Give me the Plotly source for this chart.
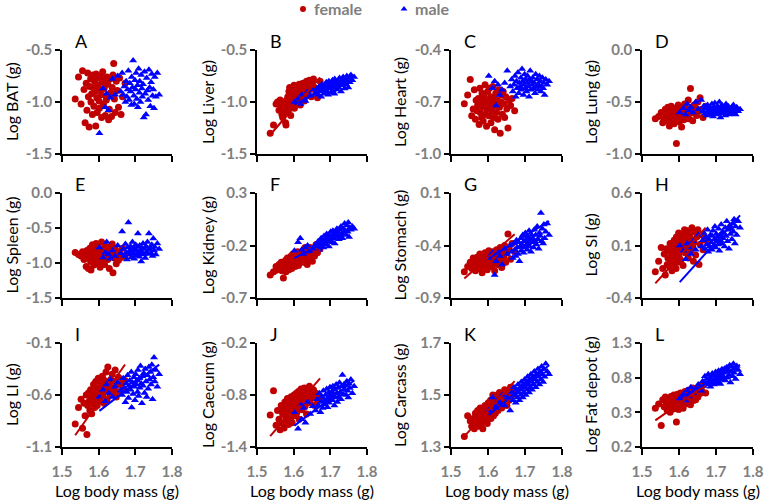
import plotly.graph_objects as go

# ---------------- data ----------------
panel_letters = ["A", "B", "C", "D", "E", "F", "G", "H", "I", "J", "K", "L"]
y_titles = ["Log BAT (g)", "Log Liver (g)", "Log Heart (g)", "Log Lung (g)",
            "Log Spleen (g)", "Log Kidney (g)", "Log Stomach (g)", "Log SI (g)",
            "Log LI (g)", "Log Caecum (g)", "Log Carcass (g)", "Log Fat depot (g)"]
x_title = "Log body mass (g)"
legend_names = ["female", "male"]
x_tickvals = [1.5, 1.6, 1.7, 1.8]
x_ticktext = ["1.5", "1.6", "1.7", "1.8"]
y_tickvals = [[-1.5, -1.0, -0.5], [-1.5, -1.0, -0.5], [-1.0, -0.7, -0.4], [-1.0, -0.5, 0.0],
              [-1.5, -1.0, -0.5, 0.0], [-0.7, -0.2, 0.3], [-0.9, -0.4, 0.1], [-0.4, 0.1, 0.6],
              [-1.1, -0.6, -0.1], [-1.4, -0.8, -0.2], [1.3, 1.5, 1.7], [-0.2, 0.3, 0.8, 1.3]]
y_ticktext = [["-1.5", "-1.0", "-0.5"], ["-1.5", "-1.0", "-0.5"], ["-1.0", "-0.7", "-0.4"],
              ["-1.0", "-0.5", "0.0"], ["-1.5", "-1.0", "-0.5", "0.0"], ["-0.7", "-0.2", "0.3"],
              ["-0.9", "-0.4", "0.1"], ["-0.4", "0.1", "0.6"], ["-1.1", "-0.6", "-0.1"],
              ["-1.4", "-0.8", "-0.2"], ["1.3", "1.5", "1.7"], ["0.2", "0.3", "0.8", "1.3"]]

female_x = [1.536, 1.545, 1.552, 1.556, 1.560, 1.563, 1.566, 1.568, 1.570, 1.572,
            1.574, 1.576, 1.578, 1.579, 1.581, 1.583, 1.584, 1.586, 1.587, 1.589,
            1.590, 1.592, 1.593, 1.595, 1.596, 1.598, 1.599, 1.601, 1.602, 1.604,
            1.605, 1.607, 1.608, 1.610, 1.611, 1.613, 1.615, 1.616, 1.618, 1.620,
            1.621, 1.623, 1.625, 1.627, 1.629, 1.631, 1.633, 1.635, 1.637, 1.639,
            1.641, 1.643, 1.645, 1.648, 1.651, 1.654, 1.657, 1.661, 1.665, 1.672]
male_x = [1.602, 1.612, 1.618, 1.622, 1.627, 1.632, 1.638, 1.645, 1.652, 1.660,
          1.664, 1.667, 1.670, 1.673, 1.675, 1.677, 1.679, 1.681, 1.683, 1.685,
          1.687, 1.689, 1.690, 1.692, 1.694, 1.696, 1.697, 1.699, 1.701, 1.702,
          1.704, 1.706, 1.707, 1.709, 1.711, 1.712, 1.714, 1.716, 1.718, 1.719,
          1.721, 1.723, 1.725, 1.727, 1.729, 1.731, 1.733, 1.735, 1.737, 1.739,
          1.741, 1.743, 1.745, 1.747, 1.749, 1.751, 1.753, 1.756, 1.760, 1.765]

female_bat = [-0.97, -0.76, -1.02, -0.70, -0.88, -1.20, -0.82, -1.08, -0.72, -0.95,
              -1.24, -0.85, -0.78, -1.00, -0.92, -1.12, -0.74, -0.86, -1.04, -0.80,
              -0.90, -1.23, -0.73, -0.96, -1.10, -0.84, -0.77, -0.99, -1.06, -0.88,
              -0.75, -0.93, -1.15, -0.81, -0.71, -1.02, -0.87, -0.79, -1.13, -0.94,
              -0.98, -0.76, -0.83, -1.17, -1.07, -0.78, -0.91, -1.14, -0.86, -0.74,
              -0.63, -0.97, -1.10, -0.80, -0.89, -1.05, -0.77, -1.12, -0.95, -0.82]
male_bat = [-1.30, -0.87, -1.05, -0.92, -1.08, -0.96, -0.78, -0.93, -0.75, -0.90,
            -0.72, -0.93, -0.85, -1.00, -0.80, -0.95, -0.88, -0.70, -0.98, -0.82,
            -0.90, -1.03, -0.76, -0.86, -0.60, -0.94, -1.02, -0.79, -0.88, -0.72,
            -0.97, -0.84, -1.05, -0.68, -0.91, -0.80, -1.00, -0.74, -0.87, -0.95,
            -0.83, -1.15, -0.71, -0.92, -1.12, -0.77, -0.89, -0.98, -0.69, -0.86,
            -1.04, -0.81, -0.73, -0.94, -0.88, -1.06, -0.76, -0.95, -0.72, -0.93]

female_liver = [-1.30, -1.22, -1.02, -1.00, -1.08, -0.98, -1.05, -1.12, -1.15, -1.00,
                -1.03, -1.10, -1.20, -1.22, -0.98, -1.08, -0.95, -1.05, -0.90, -0.86,
                -1.00, -1.13, -0.92, -0.88, -1.02, -0.86, -0.95, -0.84, -1.06, -0.90,
                -0.93, -0.87, -1.00, -0.85, -0.92, -0.96, -0.83, -0.90, -1.03, -0.88,
                -0.86, -0.94, -0.82, -0.89, -0.99, -0.85, -0.91, -0.80, -0.87, -0.93,
                -0.84, -0.79, -0.88, -0.95, -0.82, -0.78, -0.86, -0.90, -0.96, -0.80]
male_liver = [-1.00, -0.97, -1.02, -0.93, -0.96, -0.99, -0.90, -0.94, -0.88, -0.91,
              -0.87, -0.93, -0.85, -0.89, -0.95, -0.83, -0.90, -0.86, -0.92, -0.84,
              -0.88, -0.81, -0.90, -0.85, -0.93, -0.80, -0.87, -0.84, -0.91, -0.82,
              -0.86, -0.79, -0.89, -0.83, -0.92, -0.78, -0.85, -0.81, -0.88, -0.84,
              -0.80, -0.86, -0.77, -0.83, -0.90, -0.79, -0.84, -0.76, -0.82, -0.87,
              -0.78, -0.83, -0.75, -0.80, -0.86, -0.77, -0.81, -0.74, -0.79, -0.76]

female_heart = [-0.71, -0.66, -0.57, -0.78, -0.74, -0.63, -0.80, -0.69, -0.75, -0.72,
                -0.68, -0.83, -0.62, -0.76, -0.70, -0.79, -0.65, -0.73, -0.81, -0.67,
                -0.71, -0.60, -0.77, -0.69, -0.84, -0.74, -0.64, -0.70, -0.78, -0.62,
                -0.73, -0.67, -0.82, -0.70, -0.75, -0.61, -0.79, -0.68, -0.86, -0.72,
                -0.65, -0.76, -0.69, -0.80, -0.63, -0.73, -0.88, -0.70, -0.66, -0.77,
                -0.64, -0.71, -0.79, -0.67, -0.74, -0.85, -0.69, -0.72, -0.68, -0.75]
male_heart = [-0.55, -0.62, -0.58, -0.72, -0.60, -0.66, -0.63, -0.59, -0.52, -0.61,
              -0.57, -0.64, -0.60, -0.55, -0.67, -0.58, -0.62, -0.53, -0.65, -0.59,
              -0.61, -0.56, -0.63, -0.51, -0.58, -0.66, -0.60, -0.54, -0.62, -0.57,
              -0.64, -0.59, -0.55, -0.61, -0.67, -0.57, -0.52, -0.63, -0.58, -0.60,
              -0.56, -0.62, -0.59, -0.65, -0.54, -0.61, -0.57, -0.63, -0.60, -0.55,
              -0.58, -0.64, -0.61, -0.56, -0.62, -0.59, -0.66, -0.57, -0.60, -0.58]

female_lung = [-0.66, -0.64, -0.60, -0.70, -0.66, -0.57, -0.63, -0.68, -0.55, -0.62,
               -0.73, -0.59, -0.65, -0.54, -0.61, -0.68, -0.58, -0.64, -0.71, -0.60,
               -0.56, -0.63, -0.90, -0.59, -0.66, -0.53, -0.62, -0.69, -0.57, -0.65,
               -0.60, -0.74, -0.55, -0.63, -0.58, -0.67, -0.52, -0.61, -0.56, -0.64,
               -0.57, -0.62, -0.48, -0.66, -0.59, -0.37, -0.60, -0.55, -0.68, -0.58,
               -0.53, -0.61, -0.56, -0.63, -0.50, -0.59, -0.46, -0.57, -0.65, -0.54]
male_lung = [-0.60, -0.56, -0.62, -0.52, -0.58, -0.55, -0.60, -0.50, -0.57, -0.48,
             -0.59, -0.54, -0.61, -0.56, -0.63, -0.53, -0.58, -0.60, -0.55, -0.62,
             -0.57, -0.52, -0.60, -0.64, -0.55, -0.58, -0.51, -0.61, -0.56, -0.59,
             -0.54, -0.62, -0.57, -0.50, -0.60, -0.65, -0.56, -0.53, -0.59, -0.61,
             -0.58, -0.55, -0.63, -0.52, -0.57, -0.60, -0.54, -0.62, -0.56, -0.59,
             -0.61, -0.55, -0.58, -0.53, -0.60, -0.57, -0.62, -0.55, -0.59, -0.57]

female_spleen = [-0.85, -0.88, -0.90, -0.84, -0.95, -0.87, -1.05, -0.82, -0.92, -1.08,
                 -0.86, -0.79, -0.98, -1.10, -0.88, -0.74, -0.93, -0.84, -1.03, -0.90,
                 -0.81, -0.96, -0.72, -0.89, -1.00, -0.85, -0.77, -0.94, -0.87, -1.06,
                 -0.83, -0.91, -0.70, -0.88, -0.97, -0.80, -0.86, -1.02, -0.76, -0.92,
                 -0.89, -0.84, -0.95, -0.78, -1.08, -0.87, -0.82, -0.90, -0.73, -1.14,
                 -0.86, -0.93, -0.80, -1.01, -0.88, -0.96, -0.84, -0.92, -0.79, -0.90]
male_spleen = [-0.78, -0.92, -0.85, -0.70, -0.88, -0.94, -0.82, -0.90, -0.75, -0.86,
               -0.55, -0.80, -0.90, -0.73, -0.85, -0.95, -0.78, -0.42, -0.88, -0.82,
               -0.76, -0.92, -0.84, -0.70, -0.87, -0.79, -0.94, -0.81, -0.74, -0.89,
               -0.83, -0.77, -0.58, -0.86, -0.91, -0.75, -0.82, -0.98, -0.79, -0.85,
               -0.72, -0.88, -0.80, -0.93, -0.76, -0.84, -0.70, -0.87, -0.58, -0.81,
               -0.78, -0.86, -0.74, -0.90, -0.65, -0.82, -0.77, -0.88, -0.72, -0.80]

female_kidney = [-0.48, -0.45, -0.40, -0.43, -0.38, -0.42, -0.36, -0.44, -0.39, -0.51,
                 -0.37, -0.41, -0.34, -0.45, -0.38, -0.32, -0.40, -0.35, -0.43, -0.37,
                 -0.33, -0.39, -0.30, -0.42, -0.36, -0.28, -0.38, -0.34, -0.31, -0.40,
                 -0.35, -0.29, -0.37, -0.32, -0.26, -0.39, -0.33, -0.30, -0.36, -0.27,
                 -0.31, -0.34, -0.25, -0.36, -0.29, -0.22, -0.33, -0.27, -0.38, -0.30,
                 -0.26, -0.32, -0.22, -0.28, -0.35, -0.24, -0.30, -0.19, -0.27, -0.23]
male_kidney = [-0.25, -0.17, -0.13, -0.24, -0.28, -0.22, -0.20, -0.26, -0.23, -0.19,
               -0.21, -0.16, -0.24, -0.18, -0.13, -0.20, -0.15, -0.22, -0.11, -0.17,
               -0.14, -0.19, -0.09, -0.16, -0.12, -0.21, -0.10, -0.15, -0.07, -0.13,
               -0.11, -0.17, -0.06, -0.13, -0.09, -0.18, -0.08, -0.12, -0.04, -0.10,
               -0.07, -0.14, -0.05, -0.11, -0.02, -0.09, -0.13, -0.04, -0.08, 0.01,
               -0.06, -0.10, -0.01, -0.07, 0.02, -0.12, -0.03, -0.05, -0.02, -0.04]

female_stomach = [-0.65, -0.60, -0.56, -0.62, -0.52, -0.58, -0.64, -0.55, -0.60, -0.51,
                  -0.57, -0.62, -0.48, -0.55, -0.59, -0.53, -0.66, -0.50, -0.56, -0.61,
                  -0.52, -0.47, -0.58, -0.54, -0.49, -0.63, -0.51, -0.56, -0.45, -0.53,
                  -0.57, -0.48, -0.54, -0.60, -0.50, -0.46, -0.55, -0.52, -0.64, -0.49,
                  -0.53, -0.44, -0.58, -0.50, -0.47, -0.55, -0.42, -0.52, -0.61, -0.48,
                  -0.45, -0.51, -0.40, -0.56, -0.47, -0.29, -0.43, -0.53, -0.38, -0.46]
male_stomach = [-0.52, -0.47, -0.68, -0.55, -0.45, -0.50, -0.58, -0.43, -0.48, -0.40,
                -0.46, -0.52, -0.38, -0.44, -0.50, -0.35, -0.42, -0.48, -0.37, -0.55,
                -0.41, -0.33, -0.45, -0.39, -0.30, -0.47, -0.36, -0.42, -0.28, -0.40,
                -0.35, -0.44, -0.32, -0.38, -0.26, -0.41, -0.34, -0.46, -0.30, -0.37,
                -0.33, -0.42, -0.25, -0.36, -0.30, -0.39, -0.22, -0.34, -0.43, -0.28,
                -0.31, -0.09, -0.36, -0.24, -0.38, -0.20, -0.33, -0.27, -0.19, -0.30]

female_si = [-0.15, -0.05, 0.08, -0.12, 0.02, -0.18, 0.07, -0.08, -0.02, 0.05,
             -0.10, 0.12, -0.05, 0.03, -0.14, 0.09, 0.00, -0.07, 0.15, -0.03,
             0.06, -0.12, 0.18, 0.02, -0.06, 0.11, 0.22, -0.02, 0.08, 0.14,
             -0.04, 0.20, 0.05, 0.12, -0.09, 0.17, 0.25, 0.03, 0.10, 0.19,
             0.07, 0.24, -0.02, 0.14, 0.21, 0.04, 0.16, 0.27, 0.09, -0.05,
             0.13, 0.23, 0.01, 0.18, 0.25, -0.08, 0.11, 0.20, 0.06, 0.15]
male_si = [0.10, 0.05, -0.03, 0.12, 0.08, 0.02, 0.14, 0.06, 0.20, 0.09,
           0.15, 0.22, 0.07, 0.18, 0.11, 0.25, 0.04, 0.16, 0.09, 0.20,
           0.13, 0.06, 0.19, 0.24, 0.10, 0.16, 0.28, 0.08, 0.21, 0.14,
           0.18, 0.11, 0.26, 0.05, 0.20, 0.15, 0.30, 0.12, 0.23, 0.17,
           0.22, 0.09, 0.27, 0.19, 0.33, 0.14, 0.25, 0.07, 0.29, 0.21,
           0.26, 0.16, 0.31, 0.23, 0.35, 0.12, 0.28, 0.20, 0.33, 0.27]

female_li = [-0.88, -0.72, -0.64, -0.92, -0.68, -0.80, -0.60, -0.98, -0.70, -0.58,
             -0.66, -0.75, -0.55, -0.62, -0.78, -0.57, -0.68, -0.50, -0.64, -0.72,
             -0.59, -0.47, -0.65, -0.54, -0.70, -0.61, -0.44, -0.58, -0.66, -0.52,
             -0.63, -0.49, -0.57, -0.42, -0.60, -0.53, -0.68, -0.46, -0.55, -0.38,
             -0.51, -0.64, -0.33, -0.56, -0.48, -0.60, -0.45, -0.53, -0.40, -0.58,
             -0.47, -0.55, -0.36, -0.62, -0.50, -0.43, -0.57, -0.49, -0.54, -0.46]
male_li = [-0.62, -0.55, -0.66, -0.50, -0.58, -0.45, -0.62, -0.52, -0.48, -0.56,
           -0.60, -0.44, -0.53, -0.67, -0.49, -0.57, -0.41, -0.63, -0.51, -0.46,
           -0.55, -0.38, -0.72, -0.48, -0.59, -0.43, -0.52, -0.65, -0.40, -0.50,
           -0.46, -0.57, -0.36, -0.61, -0.44, -0.53, -0.32, -0.49, -0.68, -0.42,
           -0.51, -0.39, -0.58, -0.35, -0.47, -0.62, -0.41, -0.54, -0.33, -0.45,
           -0.38, -0.50, -0.31, -0.64, -0.43, -0.24, -0.47, -0.36, -0.52, -0.40]

female_caecum = [-1.03, -0.75, -1.15, -0.98, -1.08, -1.20, -0.92, -1.12, -1.02, -0.95,
                 -1.18, -0.88, -1.05, -0.97, -1.10, -0.84, -1.00, -1.14, -0.91, -0.86,
                 -0.99, -1.07, -0.82, -0.94, -1.12, -0.89, -0.96, -0.80, -1.04, -0.87,
                 -0.92, -0.78, -1.01, -0.85, -0.95, -0.76, -1.08, -0.83, -0.90, -0.73,
                 -0.86, -0.97, -0.79, -0.88, -0.72, -0.93, -0.81, -1.02, -0.77, -0.85,
                 -0.80, -0.70, -0.89, -0.76, -0.83, -0.74, -0.92, -0.78, -0.86, -0.82]
male_caecum = [-1.00, -1.19, -0.90, -1.08, -0.95, -1.12, -0.88, -1.02, -0.93, -0.98,
               -0.85, -0.92, -0.78, -1.00, -0.88, -0.82, -0.95, -0.75, -0.86, -0.91,
               -0.80, -0.87, -0.73, -0.94, -0.83, -0.77, -0.89, -0.71, -0.84, -0.79,
               -0.76, -0.86, -0.70, -0.81, -0.92, -0.74, -0.83, -0.68, -0.78, -0.88,
               -0.72, -0.82, -0.66, -0.77, -0.85, -0.70, -0.57, -0.79, -0.68, -0.74,
               -0.69, -0.80, -0.64, -0.75, -0.83, -0.67, -0.72, -0.62, -0.78, -0.70]

female_carcass = [1.34, 1.42, 1.40, 1.38, 1.41, 1.37, 1.43, 1.39, 1.41, 1.44,
                  1.38, 1.42, 1.40, 1.45, 1.39, 1.43, 1.41, 1.37, 1.44, 1.42,
                  1.40, 1.46, 1.43, 1.41, 1.45, 1.39, 1.44, 1.47, 1.42, 1.45,
                  1.43, 1.48, 1.41, 1.46, 1.44, 1.50, 1.42, 1.47, 1.45, 1.43,
                  1.48, 1.45, 1.50, 1.44, 1.47, 1.51, 1.46, 1.49, 1.45, 1.48,
                  1.50, 1.47, 1.52, 1.49, 1.46, 1.51, 1.48, 1.53, 1.50, 1.52]
male_carcass = [1.44, 1.49, 1.46, 1.45, 1.48, 1.47, 1.50, 1.46, 1.49, 1.44,
                1.51, 1.48, 1.53, 1.50, 1.47, 1.52, 1.49, 1.54, 1.51, 1.48,
                1.53, 1.50, 1.55, 1.52, 1.49, 1.54, 1.51, 1.56, 1.53, 1.50,
                1.55, 1.52, 1.57, 1.54, 1.51, 1.56, 1.53, 1.58, 1.55, 1.52,
                1.57, 1.54, 1.59, 1.56, 1.53, 1.58, 1.55, 1.60, 1.57, 1.54,
                1.59, 1.56, 1.61, 1.58, 1.55, 1.60, 1.57, 1.62, 1.59, 1.58]

female_fat = [0.36, 0.42, 0.11, 0.48, 0.38, 0.52, 0.44, 0.33, 0.50, 0.40,
              0.46, 0.30, 0.53, 0.41, 0.37, 0.49, 0.43, 0.55, 0.35, 0.47,
              0.51, 0.39, 0.16, 0.45, 0.56, 0.42, 0.34, 0.50, 0.47, 0.58,
              0.44, 0.53, 0.40, 0.48, 0.36, 0.55, 0.46, 0.60, 0.42, 0.51,
              0.57, 0.45, 0.62, 0.49, 0.54, 0.41, 0.59, 0.50, 0.65, 0.47,
              0.55, 0.63, 0.48, 0.60, 0.52, 0.67, 0.57, 0.62, 0.70, 0.58]
male_fat = [0.50, 0.56, 0.47, 0.62, 0.53, 0.66, 0.58, 0.64, 0.70, 0.61,
            0.75, 0.68, 0.82, 0.72, 0.78, 0.70, 0.85, 0.74, 0.80, 0.67,
            0.79, 0.73, 0.86, 0.76, 0.70, 0.83, 0.77, 0.88, 0.72, 0.81,
            0.84, 0.75, 0.90, 0.79, 0.86, 0.71, 0.82, 0.92, 0.77, 0.87,
            0.81, 0.93, 0.76, 0.88, 0.95, 0.80, 0.90, 0.84, 0.98, 0.73,
            0.89, 0.96, 0.82, 1.00, 0.87, 0.93, 0.78, 0.97, 0.91, 0.85]

female_values = [female_bat, female_liver, female_heart, female_lung, female_spleen, female_kidney,
                 female_stomach, female_si, female_li, female_caecum, female_carcass, female_fat]
male_values = [male_bat, male_liver, male_heart, male_lung, male_spleen, male_kidney,
               male_stomach, male_si, male_li, male_caecum, male_carcass, male_fat]

# regression lines: slope and fitted value at log body mass 1.6 (None = no line)
female_slope = [None, 4.05, None, None, None, 1.86, 3.10, 3.90, 5.00, 4.90, 1.56, 3.74]
female_at16 = [None, -1.056, None, None, None, -0.373, -0.515, -0.011, -0.667, -0.962, 1.441, 0.424]
male_slope = [None, 1.71, None, None, None, 1.78, 2.18, 3.90, 2.73, 3.20, 1.17, 2.94]
male_at16 = [None, -1.026, None, None, None, -0.323, -0.528, -0.256, -0.758, -1.160, 1.421, 0.498]

# ---------------- layout ----------------
W, H = 765, 502
RED = "#C00000"
BLUE = "#0000FF"
GREY = "#7F7F7F"
FONT = "Lato"
col_px = [(62, 172), (257, 367), (451, 562), (642, 753)]
row_px = [(50, 154), (193, 298), (343, 447)]
ytitle_x = [11, 207, 399, 590]

fig = go.Figure()
annotations = []
layout_axes = {}

# legend: drawn on an invisible full-page axis (pixel coordinates); added first so it sits underneath
legend_marker_px = [303, 404]
legend_y_px = 9
layout_axes["xaxis13"] = dict(domain=[0, 1], range=[0, W], visible=False, anchor="y13", fixedrange=True)
layout_axes["yaxis13"] = dict(domain=[0, 1], range=[H, 0], visible=False, anchor="x13", fixedrange=True)
fig.add_trace(go.Scatter(x=[legend_marker_px[0]], y=[legend_y_px], mode="markers", xaxis="x13", yaxis="y13",
                         marker=dict(symbol="circle", size=6, color=RED), showlegend=False,
                         cliponaxis=False, hoverinfo="skip"))
fig.add_trace(go.Scatter(x=[legend_marker_px[1]], y=[legend_y_px], mode="markers", xaxis="x13", yaxis="y13",
                         marker=dict(symbol="triangle-up", size=6, color=BLUE), showlegend=False,
                         cliponaxis=False, hoverinfo="skip"))
for name, mxp in zip(legend_names, legend_marker_px):
    annotations.append(dict(x=(mxp + 9) / W, y=1 - legend_y_px / H, xref="paper", yref="paper",
                            text=name, showarrow=False, xanchor="left", yanchor="middle",
                            font=dict(family=FONT, size=16, color=GREY, weight="bold")))

for i in range(12):
    r, c = divmod(i, 4)
    n = i + 1
    xa = "x" if n == 1 else f"x{n}"
    ya = "y" if n == 1 else f"y{n}"
    xkey = "xaxis" if n == 1 else f"xaxis{n}"
    ykey = "yaxis" if n == 1 else f"yaxis{n}"
    x0, x1 = col_px[c]
    y0, y1 = row_px[r]
    yv = y_tickvals[i]
    layout_axes[xkey] = dict(
        domain=[x0 / W, x1 / W], anchor=ya, range=[1.5, 1.8],
        tickvals=x_tickvals, ticktext=x_ticktext, showticklabels=(r == 2),
        showline=True, linecolor="black", linewidth=1.5, ticks="outside",
        ticklen=6, tickwidth=1.5, tickcolor="black", showgrid=False, zeroline=False,
        ticklabelstandoff=4, automargin=False,
        tickfont=dict(family=FONT, size=15, color=GREY, weight="bold"))
    layout_axes[ykey] = dict(
        domain=[1 - y1 / H, 1 - y0 / H], anchor=xa, range=[min(yv), max(yv)],
        tickvals=yv, ticktext=y_ticktext[i], automargin=False,
        showline=True, linecolor="black", linewidth=1.5, ticks="outside",
        ticklen=5, tickwidth=1.5, tickcolor="black", showgrid=False, zeroline=False,
        tickfont=dict(family=FONT, size=15, color=GREY, weight="bold"))

    fig.add_trace(go.Scatter(x=female_x, y=female_values[i], mode="markers", xaxis=xa, yaxis=ya,
                             marker=dict(symbol="circle", size=7, color=RED), showlegend=False,
                             cliponaxis=False))
    fig.add_trace(go.Scatter(x=male_x, y=male_values[i], mode="markers", xaxis=xa, yaxis=ya,
                             marker=dict(symbol="triangle-up", size=7, color=BLUE), showlegend=False,
                             cliponaxis=False))
    if female_slope[i] is not None:
        fx = [min(female_x), max(female_x)]
        fy = [female_at16[i] + female_slope[i] * (v - 1.6) for v in fx]
        fig.add_trace(go.Scatter(x=fx, y=fy, mode="lines", xaxis=xa, yaxis=ya,
                                 line=dict(color=RED, width=2), showlegend=False))
    if male_slope[i] is not None:
        mx = [min(male_x), max(male_x)]
        my = [male_at16[i] + male_slope[i] * (v - 1.6) for v in mx]
        fig.add_trace(go.Scatter(x=mx, y=my, mode="lines", xaxis=xa, yaxis=ya,
                                 line=dict(color=BLUE, width=2), showlegend=False))

    # panel letter
    annotations.append(dict(x=(x0 + 11) / W, y=1 - (y0 - 9) / H, xref="paper", yref="paper",
                            text=panel_letters[i], showarrow=False, xanchor="left", yanchor="middle",
                            font=dict(family=FONT, size=18, color="black")))
    # y title
    annotations.append(dict(x=ytitle_x[c] / W, y=1 - ((y0 + y1) / 2) / H, xref="paper", yref="paper",
                            text=y_titles[i], showarrow=False, textangle=-90,
                            xanchor="center", yanchor="middle",
                            font=dict(family=FONT, size=16, color="black")))
    if r == 2:
        annotations.append(dict(x=((x0 + x1) / 2) / W, y=1 - 490 / H, xref="paper", yref="paper",
                                text=x_title, showarrow=False, xanchor="center", yanchor="middle",
                                font=dict(family=FONT, size=16, color="black")))

fig.update_layout(
    width=W, height=H, margin=dict(l=0, r=0, t=0, b=0, autoexpand=False),
    paper_bgcolor="white", plot_bgcolor="rgba(0,0,0,0)",
    font=dict(family=FONT),
    showlegend=False,
    annotations=annotations,
    **layout_axes,
)

fig.write_html("out.html", config={"displayModeBar": False},
               post_script="document.body.style.margin='0px';")
